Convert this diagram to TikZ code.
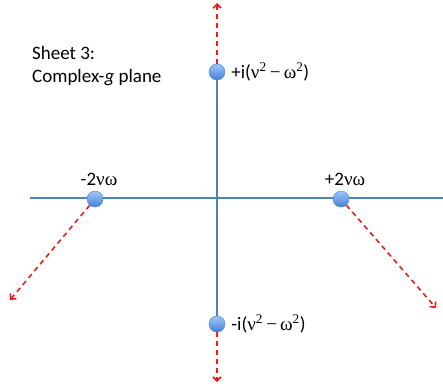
\documentclass[tikz,border=0pt]{standalone}
\usepackage{fontspec}
\setmainfont{Carlito}
\newfontfamily\grk{Liberation Serif}
\usetikzlibrary{positioning,arrows.meta,backgrounds}
\definecolor{axisblue}{RGB}{79,129,189}
\definecolor{cutred}{RGB}{235,30,30}
\definecolor{poletop}{RGB}{160,198,248}
\definecolor{polebot}{RGB}{70,128,215}
\newcommand{\gnu}{{\grk ν}}
\newcommand{\gom}{{\grk ω}}
\newcommand{\gdiff}{{\grk ν\textsuperscript{2}\,−\,ω\textsuperscript{2}}}
\tikzset{
  axis/.style={draw=axisblue, line width=1.8pt},
  pole/.style={circle, inner sep=0pt, minimum size=16pt, top color=poletop,
    bottom color=polebot, draw=polebot, line width=0.4pt},
  cut/.style={draw=cutred, line width=1.6pt, dash pattern=on 5pt off 4pt,
    -{Straight Barb[length=4pt,width=8pt]}},
  lbl/.style={font=\fontsize{19}{23}\selectfont, inner sep=1pt}
}
\begin{document}
\begin{tikzpicture}[x=1pt,y=-1pt]
  \useasboundingbox (0,0) rectangle (443,385);
  % ends of the axes and of the cuts
  \coordinate (xl) at (30,198);
  \coordinate (xr) at (443,198);
  \coordinate (tend) at (217,3);
  \coordinate (bend) at (217,382);
  \coordinate (lend) at (10,300);
  \coordinate (rend) at (436,308);

  % poles
  \node[pole] (ptop) at (217,72) {};
  \node[pole] (pbot) at (217,324) {};
  \node[pole] (pl) at (95,199) {};
  \node[pole] (pr) at (341,199) {};

  % axes
  \begin{pgfonlayer}{background}
    \draw[axis] (xl) -- (xr);
    \draw[axis] (ptop.center) -- (pbot.center);
  \end{pgfonlayer}

  % cuts
  \draw[cut] (ptop) -- (tend);
  \draw[cut] (pbot) -- (bend);
  \draw[cut] (pl) -- (lend);
  \draw[cut] (pr) -- (rend);

  % labels
  \node[lbl, right=5pt of ptop] (ltop) {+i(\gdiff)};
  \node[lbl, right=5pt of pbot] (lbot) {-i(\gdiff)};
  \node[lbl] (lpl) at (99,179) {-2\gnu\gom};
  \node[lbl] (lpr) at (345,179) {+2\gnu\gom};
  \node[lbl, anchor=west, align=left] (title) at (31,66) {Sheet 3:\\Complex-\textit{g} plane};
\end{tikzpicture}
\end{document}
